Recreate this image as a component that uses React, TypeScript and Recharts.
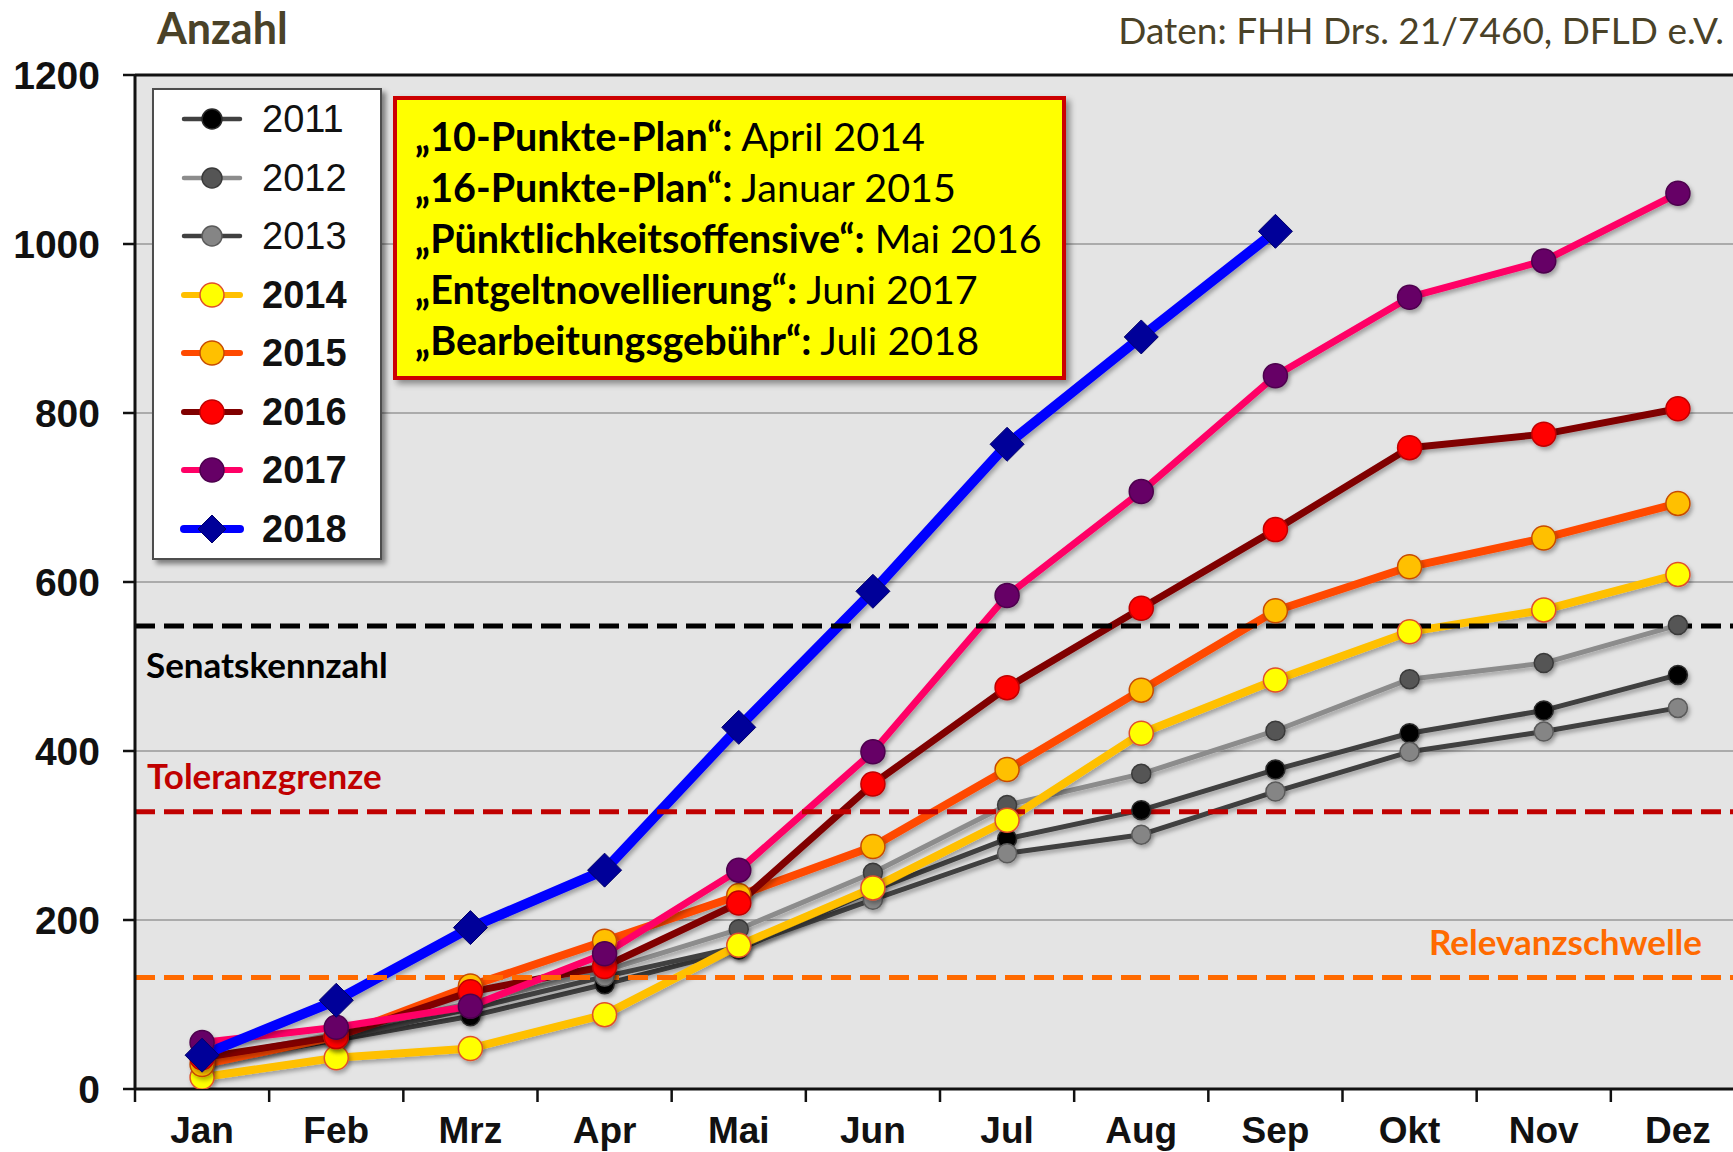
import { CartesianGrid, Legend, Line, LineChart, ReferenceLine, XAxis, YAxis } from "recharts";

const months = ["Jan", "Feb", "Mrz", "Apr", "Mai", "Jun", "Jul", "Aug", "Sep", "Okt", "Nov", "Dez"];

const values2011 = [30, 58, 86, 124, 165, 235, 296, 330, 378, 421, 448, 490];
const values2012 = [35, 65, 102, 140, 189, 256, 336, 373, 424, 485, 504, 549];
const values2013 = [28, 60, 95, 133, 168, 224, 279, 301, 352, 399, 423, 451];
const values2014 = [14, 37, 48, 88, 170, 238, 318, 421, 484, 541, 567, 609];
const values2015 = [29, 62, 122, 175, 229, 287, 378, 472, 566, 618, 652, 693];
const values2016 = [37, 62, 115, 145, 220, 361, 475, 569, 662, 759, 775, 805];
const values2017 = [55, 73, 98, 160, 259, 399, 584, 707, 844, 937, 980, 1060];
const values2018 = [40, 105, 191, 259, 428, 589, 763, 890, 1015, null, null, null];

const yTicks = [0, 200, 400, 600, 800, 1000, 1200];

const senatskennzahl = 548;
const toleranzgrenze = 328;
const relevanzschwelle = 132;

const planNames = [
  "„10-Punkte-Plan“:",
  "„16-Punkte-Plan“:",
  "„Pünktlichkeitsoffensive“:",
  "„Entgeltnovellierung“:",
  "„Bearbeitungsgebühr“:"
];
const planDates = ["April 2014", "Januar 2015", "Mai 2016", "Juni 2017", "Juli 2018"];

type Series = {
  key: string;
  name: string;
  values: (number | null)[];
  line: string;
  width: number;
  fill: string;
  stroke: string;
  r: number;
  bold: boolean;
  diamond?: boolean;
};

const series: Series[] = [
  { key: "y2011", name: "2011", values: values2011, line: "#404040", width: 5, fill: "#000000", stroke: "#2a2a2a", r: 9.5, bold: false },
  { key: "y2012", name: "2012", values: values2012, line: "#8c8c8c", width: 5, fill: "#555555", stroke: "#3a3a3a", r: 9.5, bold: false },
  { key: "y2013", name: "2013", values: values2013, line: "#404040", width: 5, fill: "#858585", stroke: "#5a5a5a", r: 9.5, bold: false },
  { key: "y2014", name: "2014", values: values2014, line: "#ffc000", width: 8, fill: "#ffff00", stroke: "#e0502a", r: 12, bold: true },
  { key: "y2015", name: "2015", values: values2015, line: "#ff4a00", width: 8, fill: "#ffc000", stroke: "#c84c00", r: 12, bold: true },
  { key: "y2016", name: "2016", values: values2016, line: "#800000", width: 7, fill: "#ff0000", stroke: "#c00000", r: 12, bold: true },
  { key: "y2017", name: "2017", values: values2017, line: "#ff0066", width: 7, fill: "#660066", stroke: "#4d004d", r: 12, bold: true },
  { key: "y2018", name: "2018", values: values2018, line: "#0000ff", width: 10, fill: "#000099", stroke: "#00006a", r: 17, bold: true, diamond: true }
];

const data = months.map((month, i) => {
  const row: Record<string, string | number | null> = { month };
  series.forEach((s) => {
    row[s.key] = s.values[i];
  });
  return row;
});

const CHART_W = 1760;
const CHART_H = 1152;
const MARGIN = { top: 75, right: 15, bottom: 13, left: 35 };
const Y_AXIS_W = 100;
const X_AXIS_H = 50;
const PLOT_W = CHART_W - MARGIN.left - MARGIN.right - Y_AXIS_W;
const TICK_SIZE = 13;
const TICK_MARGIN = 2;

const ARIAL = '"Liberation Sans", Arial, sans-serif';
const CALIBRI = 'Lato, "Noto Sans", sans-serif';

function MonthTick(props: any) {
  const { x, y, payload } = props;
  const half = PLOT_W / months.length / 2;
  const axisY = y - TICK_SIZE - TICK_MARGIN;
  return (
    <g>
      <line x1={x - half} x2={x - half} y1={axisY} y2={axisY + TICK_SIZE} stroke="#111" strokeWidth={2.5} />
      <text
        x={x}
        y={axisY + 54}
        textAnchor="middle"
        fill="#111"
        style={{ fontFamily: ARIAL, fontSize: 37, fontWeight: 700 }}
      >
        {payload.value}
      </text>
    </g>
  );
}

function DiamondDot(props: any) {
  const { cx, cy, size } = props;
  if (cx == null || cy == null) return null;
  const h = size ?? 17;
  return (
    <path
      d={`M${cx} ${cy - h}L${cx + h} ${cy}L${cx} ${cy + h}L${cx - h} ${cy}Z`}
      fill="#000099"
      stroke="#00006a"
      strokeWidth={1}
    />
  );
}

function LineLabel(props: any) {
  const { viewBox, text, color, dy, anchor, inset } = props;
  if (!viewBox) return null;
  const x = anchor === "end" ? viewBox.x + viewBox.width - inset : viewBox.x + inset;
  return (
    <text
      x={x}
      y={viewBox.y + dy}
      textAnchor={anchor}
      fill={color}
      style={{ fontFamily: CALIBRI, fontSize: 35, fontWeight: 700 }}
    >
      {text}
    </text>
  );
}

function LegendBox() {
  return (
    <div
      style={{
        background: "#ffffff",
        border: "2px solid #4d4d4d",
        boxShadow: "4px 4px 5px rgba(0,0,0,0.45)",
        width: 226,
        height: 468
      }}
    >
      {series.map((s) => (
        <div key={s.key} style={{ height: 58.5, display: "flex", alignItems: "center" }}>
          <svg width={108} height={40} style={{ display: "block" }}>
            <line
              x1={30}
              x2={86}
              y1={20}
              y2={20}
              stroke={s.line}
              strokeWidth={s.diamond ? 8 : s.bold ? 6 : 4.5}
              strokeLinecap="round"
            />
            {s.diamond ? (
              <DiamondDot cx={58} cy={20} size={14} />
            ) : (
              <circle cx={58} cy={20} r={s.bold ? 12 : 10} fill={s.fill} stroke={s.stroke} strokeWidth={1.5} />
            )}
          </svg>
          <span
            style={{
              fontFamily: ARIAL,
              fontSize: 38,
              fontWeight: s.bold ? 700 : 400,
              color: "#111",
              lineHeight: 1
            }}
          >
            {s.name}
          </span>
        </div>
      ))}
    </div>
  );
}

export default function App() {
  return (
    <div style={{ position: "relative", width: 1733, height: 1152, overflow: "hidden", background: "#fff" }}>
      <style>{"body{margin:0}"}</style>
      <LineChart width={CHART_W} height={CHART_H} data={data} margin={MARGIN}>
        <defs>
          <filter id="shadow" filterUnits="userSpaceOnUse" x="0" y="0" width="1800" height="1200">
            <feDropShadow dx="2" dy="3" stdDeviation="2" floodColor="#000" floodOpacity="0.3" />
          </filter>
        </defs>
        <CartesianGrid vertical={false} fill="#e4e4e4" stroke="#ababab" strokeWidth={2} />
        <XAxis
          dataKey="month"
          scale="band"
          height={X_AXIS_H}
          tickLine={false}
          tickSize={TICK_SIZE}
          tickMargin={TICK_MARGIN}
          axisLine={{ stroke: "#111", strokeWidth: 3 }}
          tick={<MonthTick />}
          interval={0}
        />
        <YAxis
          width={Y_AXIS_W}
          domain={[0, 1200]}
          ticks={yTicks}
          tickSize={12}
          tickMargin={23}
          tickLine={{ stroke: "#111", strokeWidth: 2.5 }}
          axisLine={{ stroke: "#111", strokeWidth: 3 }}
          tick={{ fill: "#111", fontSize: 39, fontWeight: 700, fontFamily: ARIAL }}
          allowDataOverflow
        />
        <Legend
          layout="vertical"
          align="center"
          verticalAlign="middle"
          content={() => <LegendBox />}
          wrapperStyle={{ left: 152, top: 88, width: 230, height: 472 }}
        />
        {series.map((s) => (
          <Line
            key={s.key}
            dataKey={s.key}
            name={s.name}
            stroke={s.line}
            strokeWidth={s.width}
            strokeLinejoin="round"
            strokeLinecap="round"
            filter="url(#shadow)"
            dot={s.diamond ? <DiamondDot /> : { r: s.r, fill: s.fill, stroke: s.stroke, strokeWidth: 1.5 }}
            activeDot={false}
            isAnimationActive={false}
          />
        ))}
        <ReferenceLine y={1200} stroke="#111" strokeWidth={3} />
        <ReferenceLine
          y={senatskennzahl}
          stroke="#000000"
          strokeWidth={5}
          strokeDasharray="20 9"
          label={<LineLabel text="Senatskennzahl" color="#000000" dy={52} anchor="start" inset={11} />}
        />
        <ReferenceLine
          y={toleranzgrenze}
          stroke="#c00000"
          strokeWidth={5}
          strokeDasharray="20 9"
          label={<LineLabel text="Toleranzgrenze" color="#c00000" dy={-23} anchor="start" inset={12} />}
        />
        <ReferenceLine
          y={relevanzschwelle}
          stroke="#ff6a00"
          strokeWidth={5}
          strokeDasharray="20 9"
          label={<LineLabel text="Relevanzschwelle" color="#ff6a00" dy={-22} anchor="end" inset={43} />}
        />
      </LineChart>
      <svg
        width={1733}
        height={1152}
        style={{ position: "absolute", left: 0, top: 0, pointerEvents: "none" }}
      >
        <defs>
          <filter id="boxShadow" x="-5%" y="-5%" width="115%" height="120%">
            <feDropShadow dx="4" dy="4" stdDeviation="3" floodColor="#000" floodOpacity="0.4" />
          </filter>
        </defs>
        <text x={157} y={44} fill="#4a4228" style={{ fontFamily: CALIBRI, fontSize: 43, fontWeight: 700 }}>
          Anzahl
        </text>
        <text
          x={1724}
          y={44}
          textAnchor="end"
          fill="#4a4228"
          style={{ fontFamily: CALIBRI, fontSize: 37, fontWeight: 400 }}
        >
          Daten: FHH Drs. 21/7460, DFLD e.V.
        </text>
        <rect x={395} y={98} width={669} height={280} fill="#ffff00" stroke="#cc0000" strokeWidth={4} filter="url(#boxShadow)" />
        {planNames.map((name, i) => (
          <text key={name} x={415} y={151 + i * 51} fill="#000" style={{ fontFamily: CALIBRI, fontSize: 39.5 }}>
            <tspan fontWeight={700}>{name}</tspan>
            <tspan fontWeight={400}> {planDates[i]}</tspan>
          </text>
        ))}
      </svg>
    </div>
  );
}
